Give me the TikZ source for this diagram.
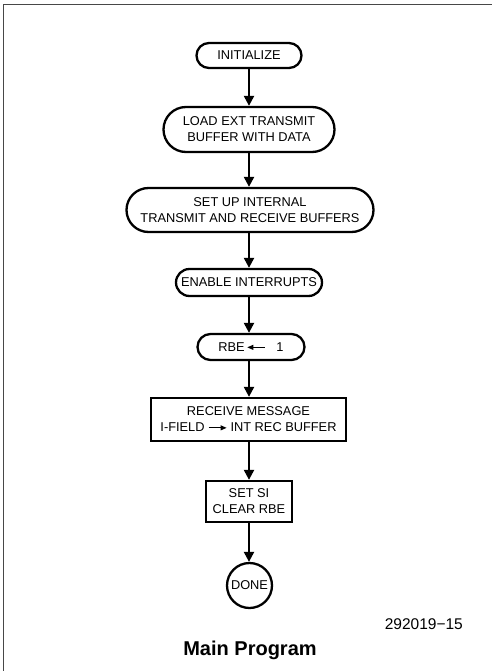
\documentclass[tikz,border=0pt]{standalone}
\usepackage{fontspec}
\setmainfont{Liberation Sans}
\usetikzlibrary{arrows.meta}

% small inline arrows used inside the step texts
\newcommand{\leftarr}{\tikz[baseline=-0.6ex]\draw[line width=0.9pt,{Triangle[length=6pt,width=5pt]}-] (0,0) -- (18pt,0);}
\newcommand{\rightarr}{\tikz[baseline=-0.6ex]\draw[line width=0.9pt,-{Triangle[length=6pt,width=5pt]}] (0,0) -- (18pt,0);}

\tikzset{
  boxtext/.style={font=\fontsize{12.8}{16}\selectfont, align=center, inner sep=0pt},
  terminal/.style={boxtext, draw, line width=2.3pt, rectangle, rounded corners=#1, minimum height=2*#1},
  stepbox/.style={boxtext, draw, line width=2.3pt, rectangle},
  endcircle/.style={boxtext, draw, line width=2.3pt, circle, minimum size=45pt},
  flow/.style={line width=2.2pt, -{Triangle[length=10pt,width=10pt]}},
  frameline/.style={line width=1.6pt, draw=black!72}
}

\begin{document}
\begin{tikzpicture}[x=1pt,y=-1pt]
  \useasboundingbox (0,0) rectangle (492,671);
  \fill[white] (0,0) rectangle (492,671);

  % page frame
  \draw[frameline] (3.5,671) -- (3.5,4.5) -- (492,4.5);

  % flow steps
  \node[terminal=12.5pt, minimum width=105pt] (init) at (249,55.5) {INITIALIZE};
  \node[terminal=22.5pt, minimum width=171pt] (load) at (249,129.5) {LOAD EXT TRANSMIT\\BUFFER WITH DATA};
  \node[terminal=22pt, minimum width=247pt] (setup) at (250,210) {SET UP INTERNAL\\TRANSMIT AND RECEIVE BUFFERS};
  \node[terminal=13.5pt, minimum width=146pt] (enable) at (249,282.5) {ENABLE INTERRUPTS};
  \node[terminal=13pt, minimum width=107pt] (rbe) at (251,347) {RBE\,\leftarr\ \ \ 1};
  \node[stepbox, minimum width=195pt, minimum height=43pt] (recv) at (248.5,419.5) {RECEIVE MESSAGE\\I-FIELD \rightarr\ INT REC BUFFER};
  \node[stepbox, minimum width=86pt, minimum height=41pt] (setsi) at (249,501.5) {SET SI\\CLEAR RBE};
  \node[endcircle] (done) at (249.5,585.5) {DONE};

  % connectors
  \draw[flow] (init.south -| 249,0) -- (load.north -| 249,0);
  \draw[flow] (load.south -| 249,0) -- (setup.north -| 249,0);
  \draw[flow] (setup.south -| 249,0) -- (enable.north -| 249,0);
  \draw[flow] (enable.south -| 249,0) -- (rbe.north -| 249,0);
  \draw[flow] (rbe.south -| 249,0) -- (recv.north -| 249,0);
  \draw[flow] (recv.south -| 249,0) -- (setsi.north -| 249,0);
  \draw[flow] (setsi.south -| 249,0) -- (done.north -| 249,0);

  % figure number and caption
  \node[anchor=east, inner sep=0pt, font=\fontsize{15.5}{18}\selectfont] (fignum) at (463,624) {292019−15};
  \node[inner sep=0pt, font=\fontsize{20}{24}\selectfont\bfseries] (caption) at (250,650) {Main Program};
\end{tikzpicture}
\end{document}
